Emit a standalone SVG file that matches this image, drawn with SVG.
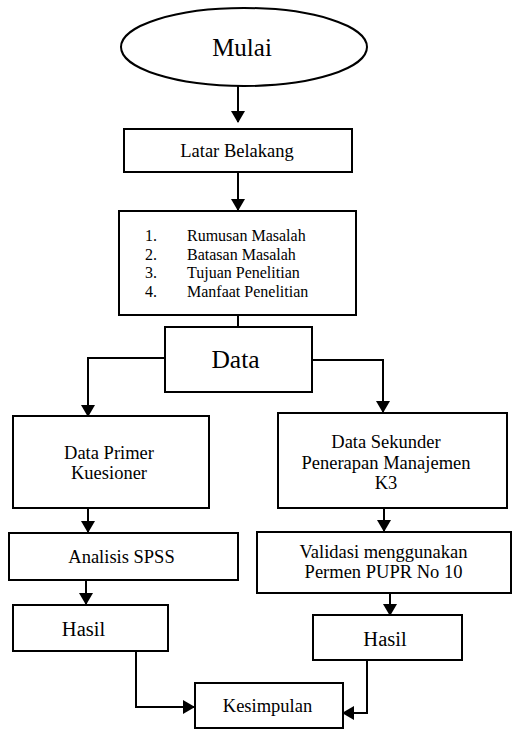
<svg xmlns="http://www.w3.org/2000/svg" width="512" height="729" viewBox="0 0 512 729">
<style>
.box{fill:#fff;stroke:#000;stroke-width:2}
text{font-family:'Liberation Serif','DejaVu Serif',serif;fill:#000}
.t{text-anchor:middle;font-size:18.5px}
.c{fill:none;stroke:#000;stroke-width:2}
</style>
<defs>
<marker id="ah" markerWidth="12" markerHeight="14" refX="11" refY="7" orient="auto" markerUnits="userSpaceOnUse">
<path d="M0,0 L12,7 L0,14 Z" fill="#000"/>
</marker>
</defs>
<rect width="512" height="729" fill="#fff"/>
<g id="connectors">
<path class="c" d="M238,86 V122" marker-end="url(#ah)"/>
<path class="c" d="M238,172 V210" marker-end="url(#ah)"/>
<path class="c" d="M238,315 V327"/>
<path class="c" d="M165,358 H88 V416" marker-end="url(#ah)"/>
<path class="c" d="M312,360 H383 V412" marker-end="url(#ah)"/>
<path class="c" d="M88,508 V532" marker-end="url(#ah)"/>
<path class="c" d="M384,508 V531" marker-end="url(#ah)"/>
<path class="c" d="M86,580 V604" marker-end="url(#ah)"/>
<path class="c" d="M390,593 V615" marker-end="url(#ah)"/>
<path class="c" d="M136,651 V707 H194" marker-end="url(#ah)"/>
<path class="c" d="M367,660 V713 H343" marker-end="url(#ah)"/>
</g>
<g id="mulai">
<ellipse cx="244" cy="47" rx="123" ry="39" class="box"/>
<text class="t" x="242" y="56" style="font-size:25px">Mulai</text>
</g>
<g id="latar">
<rect class="box" x="124" y="129" width="228" height="43"/>
<text class="t" x="237" y="157">Latar Belakang</text>
</g>
<g id="rumusan">
<rect class="box" x="119" y="211" width="237" height="104"/>
<text font-size="16">
<tspan x="145" y="241">1.</tspan><tspan x="187" y="241">Rumusan Masalah</tspan>
<tspan x="145" y="260">2.</tspan><tspan x="187" y="260">Batasan Masalah</tspan>
<tspan x="145" y="278">3.</tspan><tspan x="187" y="278">Tujuan Penelitian</tspan>
<tspan x="145" y="297">4.</tspan><tspan x="187" y="297">Manfaat Penelitian</tspan>
</text>
</g>
<g id="data">
<rect class="box" x="165" y="327" width="147" height="65"/>
<text class="t" x="235.5" y="368" style="font-size:25.5px">Data</text>
</g>
<g id="primer">
<rect class="box" x="13" y="416" width="196" height="92"/>
<text class="t" x="109" y="459">Data Primer</text>
<text class="t" x="109" y="479">Kuesioner</text>
</g>
<g id="sekunder">
<rect class="box" x="278" y="413" width="229" height="95"/>
<text class="t" x="386" y="448">Data Sekunder</text>
<text class="t" x="386" y="469">Penerapan Manajemen</text>
<text class="t" x="386" y="489">K3</text>
</g>
<g id="spss">
<rect class="box" x="9" y="533" width="229" height="47"/>
<text class="t" x="121.5" y="563">Analisis SPSS</text>
</g>
<g id="validasi">
<rect class="box" x="257" y="532" width="254" height="61"/>
<text class="t" x="383.5" y="558">Validasi menggunakan</text>
<text class="t" x="383.5" y="578">Permen PUPR No 10</text>
</g>
<g id="hasil1">
<rect class="box" x="13" y="605" width="155" height="46"/>
<text class="t" x="83.5" y="636" style="font-size:20.5px">Hasil</text>
</g>
<g id="hasil2">
<rect class="box" x="313" y="615" width="149" height="45"/>
<text class="t" x="385" y="646" style="font-size:20.5px">Hasil</text>
</g>
<g id="kesimpulan">
<rect class="box" x="195" y="683" width="148" height="45"/>
<text class="t" x="267.5" y="712">Kesimpulan</text>
</g>
</svg>
